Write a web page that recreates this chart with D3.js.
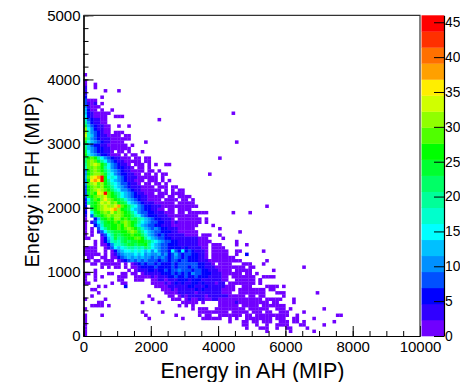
<!DOCTYPE html>
<html>
<head>
<meta charset="utf-8">
<script src="https://cdn.jsdelivr.net/npm/d3@7"></script>
<style>
    html, body { margin: 0; padding: 0; background: #fff; }
    svg { display: block; }
    text { font-family: "Liberation Sans", Arial, sans-serif; fill: #000; }
</style>
</head>
<body>
<svg id="chart" width="460" height="382"></svg>
<script>
// colour bands of the palette, bottom to top
const bandColors = [
    "#7000ff", "#3000ff", "#0000ff", "#0050ff", "#0090ff", "#00c0ff", "#00ffff",
    "#00ffcc", "#00ff99", "#00ff66", "#00ff30", "#00ff00", "#50ff00", "#90ff00",
    "#d0ff00", "#ffee00", "#ffa000", "#ff7000", "#ff3000", "#ff0000"
];
const bandLetters = "0123456789abcdefghij";
const bandSize = 2.3;

const xTicks = [0, 2000, 4000, 6000, 8000, 10000];
const yTicks = [0, 1000, 2000, 3000, 4000, 5000];
const zTicks = [0, 5, 10, 15, 20, 25, 30, 35, 40, 45];

// one string per FH bin, top row first, one band letter per AH bin, "." is empty
const topRow = 81;
const cellRows = [
    "0",
    "",
    "0",
    "0..0",
    "1..0",
    "1.....0...0",
    "1",
    "2....0",
    "3000",
    "3101.0",
    "41000",
    "5200.0..0",
    "52100000",
    "6210000..0 00",
    "7321100",
    "8421100",
    "a5321100.. 0..0",
    "d6421100",
    "d7432100.0 00",
    "e753211000 0.00",
    "c843211100 0000",
    "a654321100 00",
    "8532211000 000",
    "9543221100 0000",
    "a64322110. 00.0",
    "b754322100 0.0.00",
    "9bcb864321 1000.00.0",
    "9cdca86432 1100000.00",
    "8cdedb9643 2110.000.0",
    "7ccdcb8643 22110.00.0",
    "4bcdcb9754 32110000.0 0.0",
    "4bcddca764 3221100.00 .0.00",
    "5cefgjb676 4321110000 00.0",
    "4bfgfjb865 43211000.0 00.0.0",
    "4cdecdb976 5332110.00 .00.0",
    "3bcdcdba86 5432111000 0.000.00",
    "3bcdedcb97 6443211000 000.0.0.00",
    "3acbfejcb9 8654321100 0.000.0000",
    "3abcddecba 8654322110 0000.00.00 00",
    "26acbdfdcb a975432110 000.0000.0 0.0",
    "28abcedecd ba96543211 1000000.00 000",
    "2.abcdedde gcb9764322 1110000000 0000",
    "1.9bcdeefg dba9654322 1100.00.00 00",
    "2.6abcdcec dcba864332 2111000.00 .00000",
    "1.39abcdcd dcbb976432 2211100000 0000",
    "0..25abcbd dbcb9a8754 3221110.00 00000",
    "0.1368abbc bcdcba8654 3322110100 00000",
    "0..247aabb cbdcb97543 3221110000 0000",
    "0.0.368abb cbcdcb9754 3432211100 000",
    "0.0.13689a abbcdca865 4332221100 0000",
    "0.0..1368a 9abbcbb975 4323211111 0000.000",
    "00...0257a 89abbccb86 5433221111 1111000",
    "...0.02478 79a9aabba9 7654332211 11110000",
    "...0.00247 789aa9aab8 6543322211 1111000.00 0",
    "0000..0136 5678878798 6543322221 2111100.00 00",
    "0000..0.02 4566767656 4643326326 2321110.00 000..00",
    "00000.0.01 3455565645 4453423532 3322110.00 000..0",
    ".00..00.00 2345454544 3434323432 3222110.00 00000",
    "00.00.000. 0123434343 3323323323 3222111000 0000000",
    "..00.00000 0.0.012323 3232223233 333322110. 0000...000",
    ".....0.0.0 0.0.001222 2322223233 3233221110 00000000.0 0",
    "...0...... ...0.01112 2122323343 3323322111 0000.00000",
    "00.0...00. .00.00.011 1112223232 3243322211 1000000.00",
    "0..0.0.... 000..00000 1011122322 3223222111 100.000000 0..000",
    "0..0...... 00...000.. 0011011122 2122211111 100..00000 0.0",
    "00......0. .00....... 0000101212 1122121110 11.0000000 0.0",
    "....0.0... ..2....... .000011111 1221112111 11000..000 ....0000.0",
    "..00...... .......... ...0001011 1112121111 10000.0000 0000.00",
    "....0..... .......... ....000011 1110111111 1000..0000 0000...000",
    "..0....... .........0 .....00.01 0111110111 11100000.0 0.00.....0",
    "0.....0... .......... 0.....000. 0100110011 0000000000 000.00000.",
    "....00.... .......0.. ..0......0 0000.0.... 0000010000 00000.00..",
    "..0000.0.. .......... ........0. 0.0....... 000000.000 00.0000000",
    "0......... .......... .......... ..0.000..0 00000000.0 00000..000",
    ".......... .......0.. ...0...... ....000000 000.00000. 000.00..00 0",
    "0....0.... ........0. .......0.. ....0.00.. 0000000.00 .000000000 0..0",
    "0......... .........0 .........0 .....00000 0..0.0..00 000000.000 ..00",
    "0......... .......... .......... .......... ...0...00. 00.000..00 0.00.0",
    "0......... .......... .......... .......... .......00. .0..0..000 0...00",
    "0......... .......... .......... .......... ........0. ..000..0.. 00",
    "0......... .......... .......... .......... .......... ....0..... .0",
    "0"
];

// cells standing away from the main cloud: AH bin, FH bin, band letter
const strayCols = [22, 17, 19, 21, 24, 25, 18, 14, 40, 37, 54, 36, 44, 49, 36, 36, 38, 40, 46, 40, 41, 45, 45, 48, 53, 48, 54, 53, 65, 56, 51, 56, 52, 52, 69, 62, 62, 61, 71, 65, 75, 76, 68, 74, 71, 66, 68, 44, 45];
const strayRows = [67, 57, 55, 53, 53, 53, 60, 59, 55, 50, 40, 38, 38, 38, 36, 35, 34, 33, 32, 31, 30, 29, 28, 28, 26, 25, 23, 22, 21, 20, 19, 18, 17, 16, 13, 11, 10, 8, 8, 7, 6, 6, 5, 4, 3, 2, 1, 69, 60];
const strayBands = "0000000000000000000000000200000000000000000000000".split("");

const width = 460;
const height = 382;
const plotLeft = 83.5;
const plotRight = 420;
const plotTop = 15.3;
const plotBottom = 336;
const barLeft = 421.5;
const barRight = 444;

function renderChart() {
    const svg = d3.select("#chart");

    const xScale = d3.scaleLinear().domain([0, 10000]).range([plotLeft, plotRight]);
    const yScale = d3.scaleLinear().domain([0, 5000]).range([plotBottom, plotTop]);
    const zScale = d3.scaleLinear().domain([0, 46]).range([plotBottom, plotTop]);
    const colorScale = d3.scaleQuantize().domain([0, 46]).range(bandColors);

    // the picture is a bit soft, the single cells have a light rim
    svg.append("defs")
        .append("filter")
        .attr("id", "soft")
        .attr("color-interpolation-filters", "sRGB")
        .append("feGaussianBlur")
        .attr("stdDeviation", 0.3);

    const cells = [];
    cellRows.forEach(function (row, i) {
        row.replace(/ /g, "").split("").forEach(function (ch, c) {
            if (ch !== ".") {
                cells.push({ c: c, r: topRow - i, value: (bandLetters.indexOf(ch) + 0.5) * bandSize });
            }
        });
    });
    strayCols.forEach(function (c, i) {
        cells.push({ c: c, r: strayRows[i], value: (bandLetters.indexOf(strayBands[i]) + 0.5) * bandSize });
    });

    // 0.25 of overlap so no white seams show between neighbouring cells
    svg.append("g")
        .attr("filter", "url(#soft)")
        .selectAll("rect")
        .data(cells)
        .join("rect")
        .attr("x", function (d) { return xScale(d.c * 100); })
        .attr("y", function (d) { return yScale((d.r + 1) * 50); })
        .attr("width", xScale(100) - xScale(0) + 0.25)
        .attr("height", yScale(0) - yScale(50) + 0.25)
        .attr("fill", function (d) { return colorScale(d.value); });

    // colour bar
    const bandEdges = d3.range(0, bandColors.length);
    svg.append("g")
        .selectAll("rect")
        .data(bandEdges)
        .join("rect")
        .attr("x", barLeft)
        .attr("y", function (d) { return zScale((d + 1) * bandSize); })
        .attr("width", barRight - barLeft)
        .attr("height", zScale(0) - zScale(bandSize) + 0.3)
        .attr("fill", function (d) { return bandColors[d]; });

    const xMinor = d3.range(0, 10001, 500);
    const yMinor = d3.range(0, 5001, 200);

    const xMinorAxis = d3.axisBottom(xScale).tickValues(xMinor).tickSize(-5).tickSizeOuter(0).tickFormat("");
    svg.append("g").attr("transform", `translate(0, ${plotBottom})`).call(xMinorAxis);
    const xAxis = d3.axisBottom(xScale).tickValues(xTicks).tickSize(-10).tickSizeOuter(0).tickPadding(5).tickFormat(d3.format("d"));
    svg.append("g").attr("transform", `translate(0, ${plotBottom})`).call(xAxis);

    const yMinorAxis = d3.axisLeft(yScale).tickValues(yMinor).tickSize(-5).tickSizeOuter(0).tickFormat("");
    svg.append("g").attr("transform", `translate(${plotLeft}, 0)`).call(yMinorAxis);
    const yAxis = d3.axisLeft(yScale).tickValues(yTicks).tickSize(-10).tickSizeOuter(0).tickPadding(3).tickFormat(d3.format("d"));
    svg.append("g").attr("transform", `translate(${plotLeft}, 0)`).call(yAxis);

    const zAxis = d3.axisRight(zScale).tickValues(zTicks).tickSize(-10).tickSizeOuter(0).tickPadding(1).tickFormat(d3.format("d"));
    const zGroup = svg.append("g").attr("transform", `translate(${barRight}, 0)`).call(zAxis);

    svg.selectAll(".domain").attr("stroke-width", 1.2).attr("stroke", "#000");
    svg.selectAll(".tick line").attr("stroke", "#000");
    svg.selectAll(".tick text").attr("font-size", 15).attr("font-family", "Liberation Sans");
    zGroup.selectAll(".tick text").attr("font-size", 13.8);

    // frame
    svg.append("path")
        .attr("d", `M${plotLeft},${plotTop}H${plotRight}V${plotBottom}`)
        .attr("fill", "none")
        .attr("stroke", "#333")
        .attr("stroke-width", 1.2);

    svg.append("text")
        .attr("x", 252.5)
        .attr("y", 378)
        .attr("text-anchor", "middle")
        .attr("font-size", 21.5)
        .text("Energy in AH (MIP)");

    svg.append("text")
        .attr("transform", "translate(39, 182) rotate(-90)")
        .attr("text-anchor", "middle")
        .attr("font-size", 20)
        .text("Energy in FH (MIP)");
}

renderChart();
</script>
</body>
</html>
